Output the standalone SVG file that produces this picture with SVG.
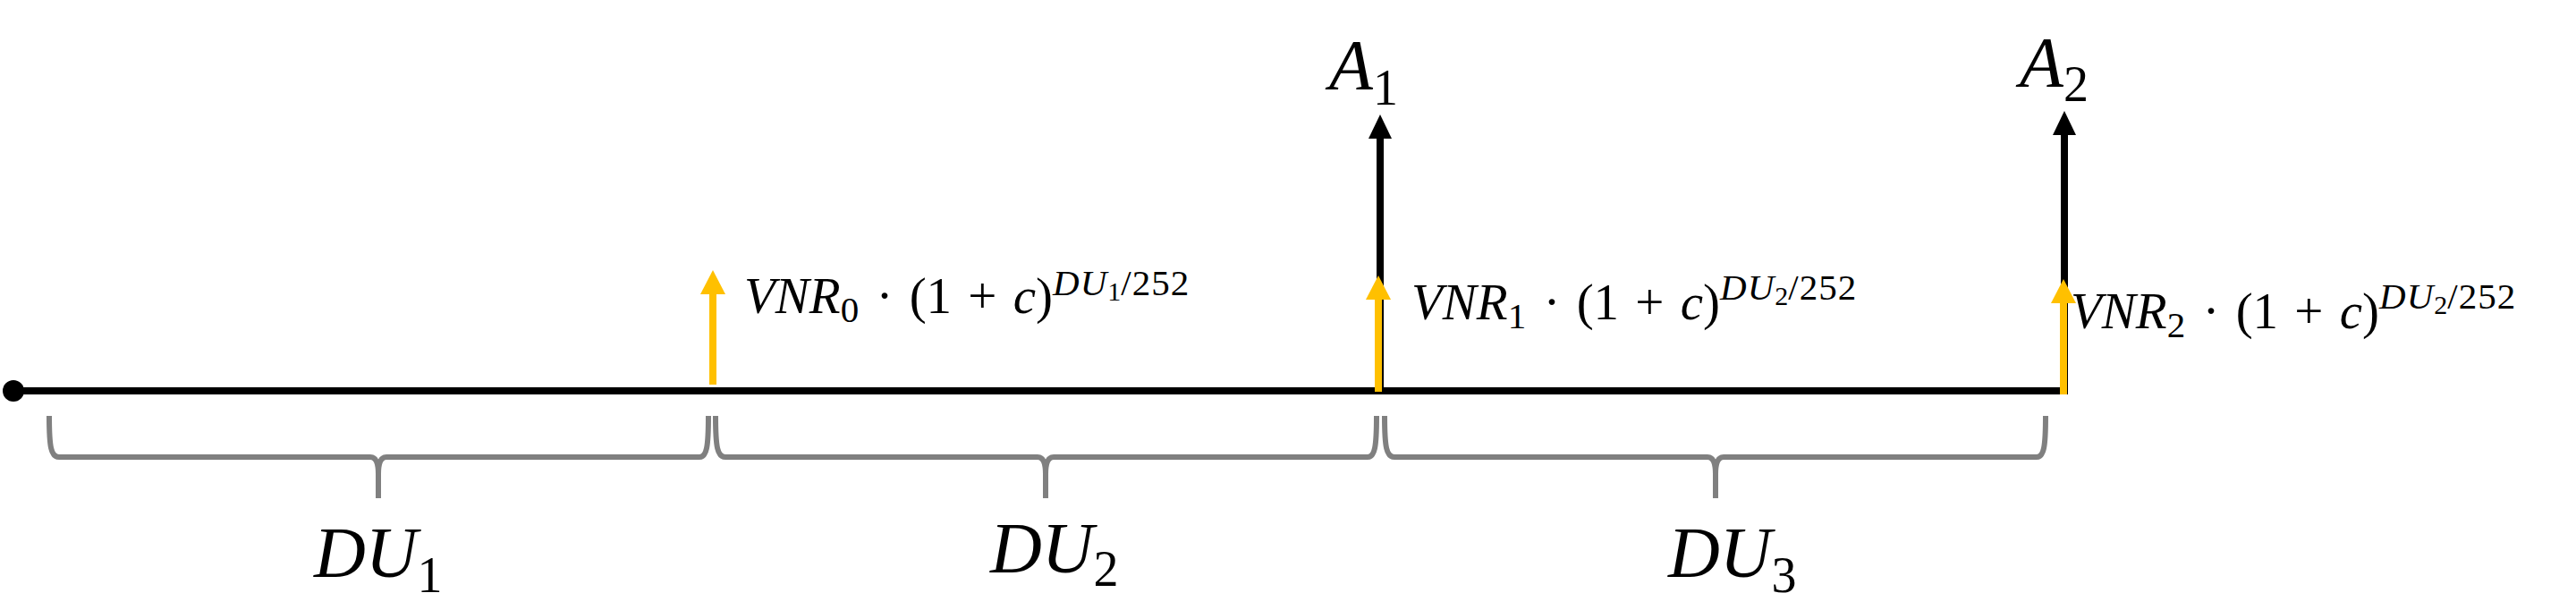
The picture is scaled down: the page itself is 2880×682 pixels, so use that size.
<svg xmlns="http://www.w3.org/2000/svg" width="2880" height="682" viewBox="0 0 2880 682">
<style>
.m{font-family:"Liberation Serif",serif;font-size:57px;fill:#000;word-spacing:4px}
.i{font-style:italic}
.sm{font-size:41px;letter-spacing:1px}
.ss{font-size:30px}
.big{font-family:"Liberation Serif",serif;font-size:80px;fill:#000}
.bsub{font-size:56px}
.brace{fill:none;stroke:#808080;stroke-width:6;stroke-linecap:butt}
.blk{stroke:#000;stroke-width:8;fill:none}
.yel{stroke:#FFC000;stroke-width:8;fill:none}
</style>
<rect width="2880" height="682" fill="#fff"/>
<g id="connectors">
<line class="blk" x1="15" y1="437" x2="2305" y2="437"/>
<circle cx="15" cy="437" r="12" fill="#000"/>
<g id="arrowA1"><line class="blk" x1="1543" y1="437" x2="1543" y2="150"/><polygon points="1530,155 1556,155 1543,128" fill="#000"/></g>
<g id="arrowA2"><line class="blk" x1="2308" y1="441" x2="2308" y2="146"/><polygon points="2295,151 2321,151 2308,124" fill="#000"/></g>
<g id="arrowV0"><line class="yel" x1="797" y1="430" x2="797" y2="324"/><polygon points="783,329 811,329 797,302" fill="#FFC000"/></g>
<g id="arrowV1"><line class="yel" x1="1541" y1="438" x2="1541" y2="330"/><polygon points="1527,335 1555,335 1541,308" fill="#FFC000"/></g>
<g id="arrowV2"><line class="yel" x1="2307" y1="441" x2="2307" y2="334"/><polygon points="2293,339 2321,339 2307,312" fill="#FFC000"/></g>
</g>
<g id="braces">
<path class="brace" d="M55,465 C55,500 57,511 66,511 L414,511 C420,511 423,516 423,530 L423,557 M423,557 L423,530 C423,516 426,511 432,511 L782,511 C790,511 792,500 792,465"/>
<path class="brace" d="M800,465 C800,500 802,511 811,511 L1160,511 C1166,511 1169,516 1169,530 L1169,557 M1169,557 L1169,530 C1169,516 1172,511 1178,511 L1529,511 C1537,511 1539,500 1539,465"/>
<path class="brace" d="M1548,465 C1548,500 1550,511 1559,511 L1909,511 C1915,511 1918,516 1918,530 L1918,557 M1918,557 L1918,530 C1918,516 1921,511 1927,511 L2277,511 C2285,511 2287,500 2287,465"/>
</g>
<g id="labelA1"><text class="big" x="1486" y="100"><tspan class="i">A</tspan><tspan class="bsub" dy="17">1</tspan></text></g>
<g id="labelA2"><text class="big" x="2258" y="97"><tspan class="i">A</tspan><tspan class="bsub" dy="16">2</tspan></text></g>
<g id="labelV0"><text class="m" x="832" y="350"><tspan class="i">VNR</tspan><tspan class="sm" dy="10">0</tspan><tspan dy="-10"> · (1 + </tspan><tspan class="i">c</tspan><tspan>)</tspan><tspan class="i sm" dy="-20">DU</tspan><tspan class="ss" dy="6">1</tspan><tspan class="sm" dy="-6">/252</tspan></text></g>
<g id="labelV1"><text class="m" x="1578" y="357"><tspan class="i">VNR</tspan><tspan class="sm" dy="10">1</tspan><tspan dy="-10"> · (1 + </tspan><tspan class="i">c</tspan><tspan>)</tspan><tspan class="i sm" dy="-22">DU</tspan><tspan class="ss" dy="6">2</tspan><tspan class="sm" dy="-6">/252</tspan></text></g>
<g id="labelV2"><text class="m" x="2315" y="367"><tspan class="i">VNR</tspan><tspan class="sm" dy="10">2</tspan><tspan dy="-10"> · (1 + </tspan><tspan class="i">c</tspan><tspan>)</tspan><tspan class="i sm" dy="-22">DU</tspan><tspan class="ss" dy="6">2</tspan><tspan class="sm" dy="-6">/252</tspan></text></g>
<g id="labelDU1"><text class="big" x="351" y="645"><tspan class="i">DU</tspan><tspan class="bsub" dy="17">1</tspan></text></g>
<g id="labelDU2"><text class="big" x="1107" y="640"><tspan class="i">DU</tspan><tspan class="bsub" dy="15">2</tspan></text></g>
<g id="labelDU3"><text class="big" x="1865" y="645"><tspan class="i">DU</tspan><tspan class="bsub" dy="17">3</tspan></text></g>
</svg>
